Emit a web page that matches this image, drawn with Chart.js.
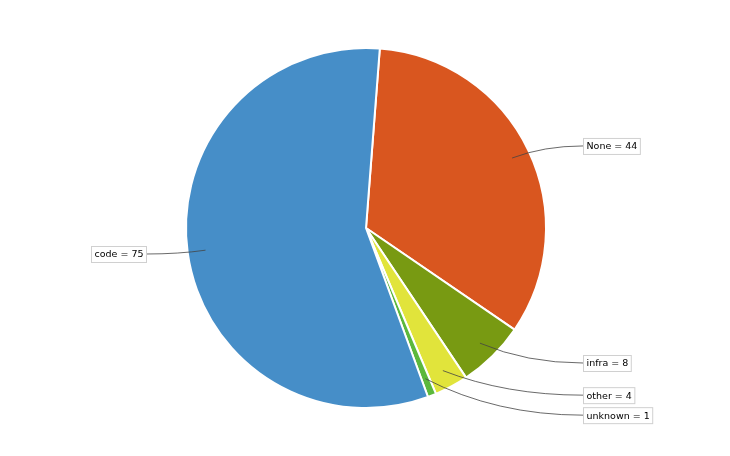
<!DOCTYPE html>
<html>
<head>
<meta charset="utf-8">
<script src="https://cdn.jsdelivr.net/npm/chart.js@4/dist/chart.umd.min.js"></script>
<style>
  body { margin: 0; background: #fff; }
  #wrap { width: 730px; height: 456px; }
</style>
</head>
<body>
<div id="wrap"><canvas id="pieChart"></canvas></div>
<script>
const categories = ['None', 'infra', 'other', 'unknown', 'code'];
const counts = [44, 8, 4, 1, 75];
const sliceColors = ['#d9561f', '#789a12', '#e1e43b', '#5cb83c', '#468ec8'];

// draws "name = value" boxes with curved leader lines
const calloutPlugin = {
    id: 'callouts',
    afterDatasetsDraw(chart) {
        const ctx = chart.ctx;
        const arcs = chart.getDatasetMeta(0).data;
        let labels = [];

        arcs.forEach((arc, i) => {
            const mid = (arc.startAngle + arc.endAngle) / 2;
            const R = arc.outerRadius;
            const right = Math.cos(mid) >= 0;
            labels.push({
                text: categories[i] + ' = ' + counts[i],
                ax: arc.x + Math.cos(mid) * R * 0.9,
                ay: arc.y + Math.sin(mid) * R * 0.9,
                ly: arc.y + Math.sin(mid) * R * 1.055,
                lx: right ? arc.x + R + 37 : arc.x - R - 40,
                right: right
            });
        });

        // push overlapping labels apart, per side
        [true, false].forEach(side => {
            const group = labels.filter(l => l.right === side).sort((a, b) => a.ly - b.ly);
            for (let k = 1; k < group.length; k++) {
                if (group[k].ly - group[k - 1].ly < 20) group[k].ly = group[k - 1].ly + 20;
            }
        });

        ctx.save();
        ctx.font = '9.5px "DejaVu Sans"';
        ctx.textBaseline = 'middle';
        labels.forEach(l => {
            const w = ctx.measureText(l.text).width + 6;
            const h = 16;
            const bx = l.right ? l.lx : l.lx - w;

            ctx.strokeStyle = '#444';
            ctx.lineWidth = 0.8;
            ctx.beginPath();
            ctx.moveTo(l.ax, l.ay);
            ctx.quadraticCurveTo(l.ax + (l.lx - l.ax) * 0.45, l.ly, l.lx, l.ly);
            ctx.stroke();

            ctx.fillStyle = '#fff';
            ctx.fillRect(bx + 0.5, l.ly - h / 2 + 0.5, w, h);
            ctx.strokeStyle = '#d0d0d0';
            ctx.lineWidth = 1;
            ctx.strokeRect(bx + 0.5, l.ly - h / 2 + 0.5, w, h);

            ctx.fillStyle = '#000';
            ctx.textAlign = 'left';
            ctx.fillText(l.text, bx + 3.5, l.ly + 1);
        });
        ctx.restore();
    }
};

const chart = new Chart(document.getElementById('pieChart'), {
    type: 'pie',
    data: {
        labels: categories,
        datasets: [{
            data: counts,
            backgroundColor: sliceColors,
            borderColor: '#fff',
            borderWidth: 2
        }]
    },
    options: {
        responsive: true,
        maintainAspectRatio: false,
        animation: false,
        rotation: 4.4,
        radius: 180,
        layout: { padding: { left: 2 } },
        plugins: {
            legend: { display: false },
            tooltip: { enabled: false }
        }
    },
    plugins: [calloutPlugin]
});
</script>
</body>
</html>
